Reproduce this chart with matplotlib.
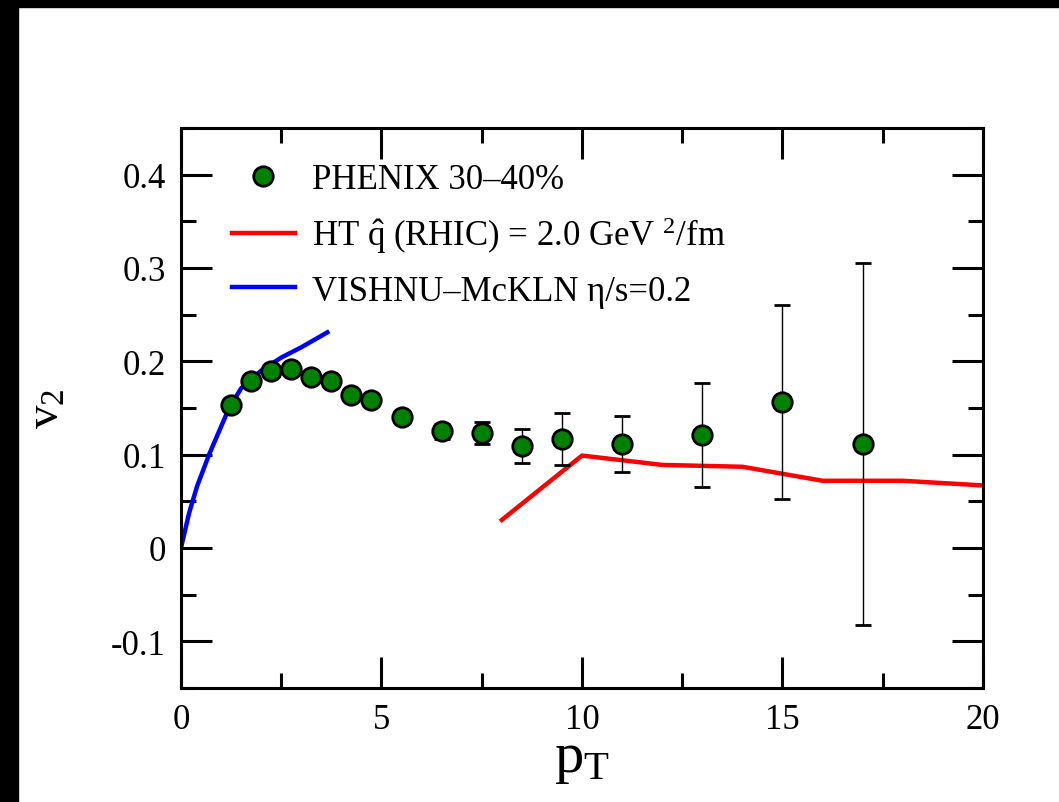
import numpy as np
import matplotlib
matplotlib.use('Agg')
import matplotlib.pyplot as plt
from matplotlib.patches import Rectangle

plt.rcParams['font.family'] = ['Liberation Serif', 'DejaVu Serif']
plt.rcParams['mathtext.fontset'] = 'custom'
plt.rcParams['mathtext.rm'] = 'Liberation Serif'
plt.rcParams['mathtext.it'] = 'Liberation Serif:italic'

# ---------------------------------------------------------------- data
pt_data = [1.25, 1.75, 2.25, 2.75, 3.25, 3.75, 4.25, 4.75, 5.5, 6.5, 7.5, 8.5, 9.5, 11, 13, 15, 17]
v2_data = [0.153, 0.179, 0.190, 0.192, 0.183, 0.179, 0.164, 0.159, 0.140, 0.125,
           0.123, 0.109, 0.117, 0.111, 0.121, 0.156, 0.111]
v2_err = [0.0, 0.0, 0.0, 0.0, 0.0, 0.0, 0.0, 0.0, 0.0, 0.008,
          0.012, 0.018, 0.028, 0.030, 0.056, 0.104, 0.194]

pt_ht = [8, 10, 12, 14, 16, 18, 20]
v2_ht = [0.030, 0.099, 0.089, 0.087, 0.072, 0.072, 0.067]

pt_hydro = [0.0, 0.2, 0.4, 0.7, 1.0, 1.2, 1.5, 2.0, 2.5, 3.0, 3.65]
v2_hydro = [0.0, 0.037, 0.066, 0.100, 0.130, 0.150, 0.171, 0.190, 0.204, 0.215, 0.231]

lab_data = 'PHENIX 30\u201340%'
lab_ht = r'HT $\hat{\mathrm{q}}$ (RHIC) = 2.0 GeV $^{2}$/fm'
lab_hydro = 'VISHNU\u2013McKLN \u03b7/s=0.2'

# ---------------------------------------------------------------- plot
fig = plt.figure(figsize=(10.59, 8.03), dpi=100)
ax = fig.add_axes([0.1709, 0.1420, 0.7573, 0.6974])

eb = ax.errorbar(pt_data, v2_data, yerr=v2_err, fmt='o', color='green', mfc='green',
                 mec='black', mew=2, ms=14, ecolor='black', elinewidth=1.0,
                 capsize=6, capthick=2.4, zorder=3)
l_ht, = ax.plot(pt_ht, v2_ht, color='red', lw=3.2, zorder=2)
l_hy, = ax.plot(pt_hydro, v2_hydro, color='blue', lw=3.2, zorder=2)

ax.set_xlim(0, 20)
ax.set_ylim(-0.15, 0.45)
ax.set_xticks([0, 5, 10, 15, 20])
ax.set_xticks(np.arange(0, 20.1, 2.5), minor=True)
ax.set_yticks([-0.1, 0, 0.1, 0.2, 0.3, 0.4])
ax.set_yticklabels(['-0.1', '0', '0.1', '0.2', '0.3', '0.4'])
ax.set_yticks(np.arange(-0.15, 0.451, 0.05), minor=True)
ax.tick_params(which='both', direction='in', top=True, right=True, width=2.2,
               labelsize=25, pad=11)
ax.tick_params(which='major', length=22)
ax.tick_params(which='minor', length=11)
for s in ax.spines.values():
    s.set_linewidth(2.2)

ax.set_xlabel(r'$\mathregular{p_T}$', fontsize=42, labelpad=-2)
ax.set_ylabel(r'$\mathregular{v_2}$', fontsize=34, labelpad=30)

ax.legend([eb[0], l_ht, l_hy], [lab_data, lab_ht, lab_hydro], loc='upper left',
          bbox_to_anchor=(0.042, 0.969), frameon=False, fontsize=25,
          handlelength=1.8, handletextpad=0.5, labelspacing=0.55, borderpad=0,
          numpoints=1)

# black frame strips at top and left of the picture
fig.patches.append(Rectangle((0, 1 - 8 / 803), 1, 8 / 803, transform=fig.transFigure,
                             color='black', zorder=10))
fig.patches.append(Rectangle((0, 0), 18 / 1059, 1, transform=fig.transFigure,
                             color='black', zorder=10))

fig.savefig('out.png', dpi=100)
